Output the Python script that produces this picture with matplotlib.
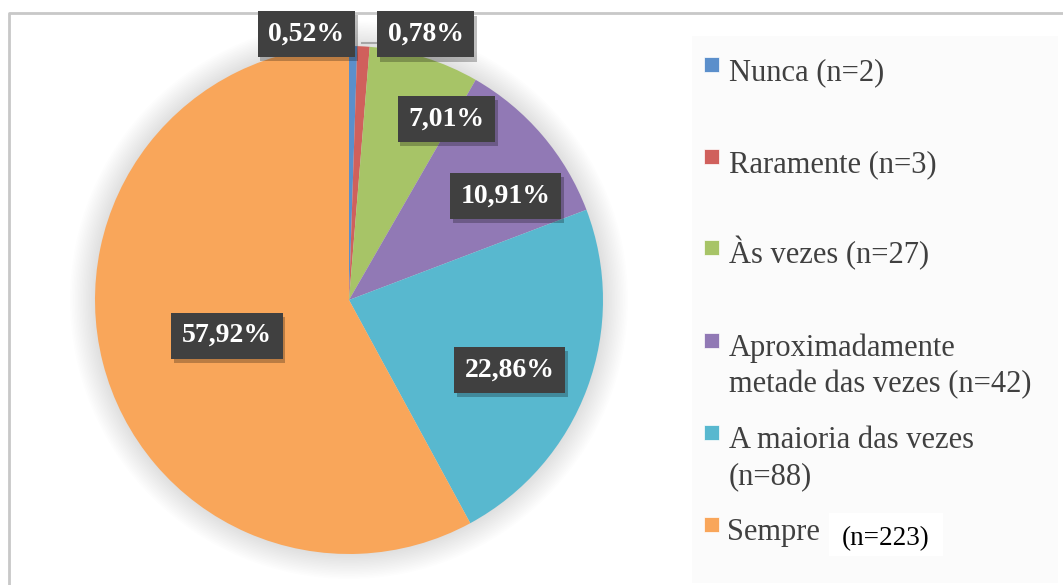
import matplotlib
matplotlib.use("Agg")
import matplotlib.pyplot as plt
import matplotlib.patheffects as pe
from matplotlib.patches import Rectangle, Circle
import numpy as np

# ---- data ----
categories = ["Nunca", "Raramente", "Às vezes",
              "Aproximadamente\nmetade das vezes", "A maioria das vezes\n", "Sempre"]
counts = [2, 3, 27, 42, 88, 223]
pct_labels = ["0,52%", "0,78%", "7,01%", "10,91%", "22,86%", "57,92%"]

# ---- style ----
colors = ["#5B8FCB", "#D0605C", "#A7C467", "#9179B5", "#58B8CF", "#F9A65A"]
W, H = 1063, 585
cx, cy, R = 349, 300, 254

fig = plt.figure(figsize=(W / 100, H / 100), dpi=100)
ax = fig.add_axes([0, 0, 1, 1])
ax.set_xlim(0, W)
ax.set_ylim(0, H)
ax.axis("off")

def Y(y):
    return H - y

# frame
ax.plot([9, 9, W], [0, Y(13), Y(13)], color="#c8c8c8", lw=2, zorder=0,
        solid_capstyle="butt")
# legend panel background
ax.add_patch(Rectangle((692, Y(583)), 1058 - 692, 583 - 36,
                       facecolor="#fbfbfb", edgecolor="none", zorder=0))

# soft glow behind pie
for k in range(16):
    ax.add_patch(Circle((cx, Y(cy)), R + 1 + k * 1.6, facecolor="#000000",
                        alpha=0.0065, edgecolor="none", zorder=1))

wedges, _ = ax.pie(counts, colors=colors, startangle=90, counterclock=False,
                   center=(cx, Y(cy)), radius=R, frame=True,
                   wedgeprops=dict(linewidth=0, zorder=2))
ax.set_xlim(0, W)
ax.set_ylim(0, H)
ax.set_aspect("equal")
ax.axis("off")

box = dict(boxstyle="square,pad=0.38", facecolor="#404040", edgecolor="none")
shadow = [pe.withSimplePatchShadow(offset=(2, -3), shadow_rgbFace="k", alpha=0.25)]
font = dict(family="Liberation Serif", weight="bold", size=20, color="white")

# inner labels: (radius fraction, angle tweak deg)
inner = {2: (0.81, -10.9), 3: (0.74, -6.8), 4: (0.69, -3.2), 5: (0.50, 2.0)}
for i, w in enumerate(wedges):
    mid = np.deg2rad((w.theta1 + w.theta2) / 2)
    if i in inner:
        rf, dt = inner[i]
        a = mid + np.deg2rad(dt)
        x = cx + rf * R * np.cos(a)
        y = Y(cy) + rf * R * np.sin(a)
        t = ax.text(x, y, pct_labels[i], ha="center", va="center",
                    bbox=box, zorder=5, **font)
        t.get_bbox_patch().set_path_effects(shadow)

# small outer labels
m0 = np.deg2rad((wedges[0].theta1 + wedges[0].theta2) / 2)
px = cx + R * np.cos(m0)
py = Y(cy) + R * np.sin(m0)
t = ax.text(px - 47, py + 12, pct_labels[0], ha="center", va="center",
            bbox=box, zorder=5, **font)
t.get_bbox_patch().set_path_effects(shadow)

m1 = np.deg2rad((wedges[1].theta1 + wedges[1].theta2) / 2)
px = cx + R * np.cos(m1)
py = Y(cy) + R * np.sin(m1)
ax.plot([px - 2, px + 16], [py + 3, py + 3], color="#a6a6a6", lw=1.5, zorder=4)
t = ax.text(px + 62, py + 12, pct_labels[1], ha="center", va="center",
            bbox=box, zorder=5, **font)
t.get_bbox_patch().set_path_effects(shadow)

# legend (manual)
baselines = [80, 172, 263, 356, 448, 540]
leg_font = dict(family="Liberation Serif", size=22, color="#404040")
for i, lab in enumerate(categories):
    ax.add_patch(Rectangle((704, Y(baselines[i] - 8)), 15, 15,
                           facecolor=colors[i], edgecolor="white", lw=0.5, zorder=3))
    if i == len(categories) - 1:
        ax.text(727, Y(baselines[i]), lab, ha="left", va="baseline",
                zorder=3, **leg_font)
        ax.add_patch(Rectangle((829, Y(556)), 114, 43, facecolor="white",
                               edgecolor="none", zorder=3))
        ax.text(842, Y(545), f"(n={counts[i]})", ha="left", va="baseline",
                family="Liberation Serif", size=19.5, color="black", zorder=4)
    else:
        lines = lab.split("\n")
        if lines[-1] == "":
            lines[-1] = f"(n={counts[i]})"
        else:
            lines[-1] = lines[-1] + f" (n={counts[i]})"
        for j, ln in enumerate(lines):
            ax.text(729, Y(baselines[i] + 36 * j), ln, ha="left", va="baseline",
                    zorder=3, **leg_font)

fig.savefig("out.png", dpi=100)
